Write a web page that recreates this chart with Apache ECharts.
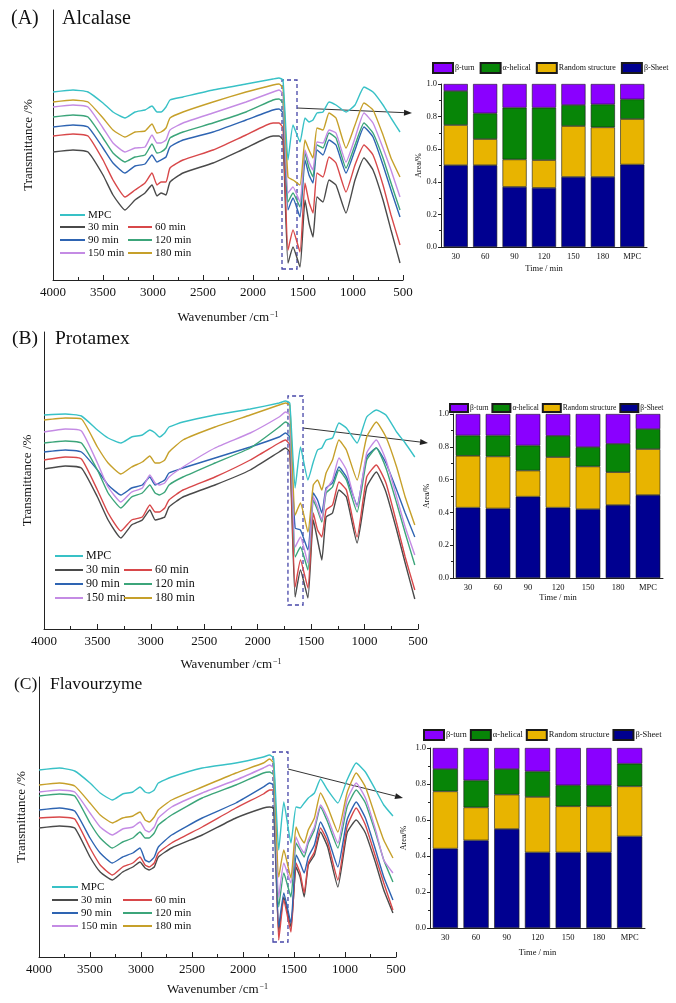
<!DOCTYPE html>
<html><head><meta charset="utf-8">
<script src="https://cdn.jsdelivr.net/npm/echarts/dist/echarts.min.js"></script>
<style>html,body{margin:0;padding:0;background:#fff}#c{width:676px;height:1003px}</style>
</head><body><div id="c"></div>
<script>
// ---------- DATA ----------
const wavenumbers = [4000,3800,3650,3500,3400,3280,3180,3080,3010,2960,2920,2870,2830,2700,2400,2070,1800,1740,1700,1650,1600,1530,1480,1440,1400,1360,1300,1240,1170,1070,980,890,800,700,620,530];
const curveNames = ['MPC','30 min','60 min','90 min','120 min','150 min','180 min'];

// Panel A (Alcalase) transmittance, arbitrary units
const specA_MPC = [188,190,188,177,168,162,168,170,174,168,168,173,180,183,190,196,201,202,200,120,155,138,162,158,160,167,168,178,175,168,175,193,188,175,162,148];
const specA_30  = [128,130,128,105,85,70,80,87,95,84,87,85,98,107,117,132,144,144,140,17,33,13,80,57,43,83,78,100,95,67,100,122,110,80,50,17];
const specA_60  = [144,146,144,120,100,83,90,97,107,95,98,98,112,120,130,145,157,157,152,30,50,28,97,78,67,107,103,123,117,88,115,135,125,95,65,35];
const specA_90  = [153,155,153,132,117,107,114,116,125,118,120,123,133,140,148,160,170,171,167,70,82,63,120,105,97,130,125,140,135,107,130,153,143,115,90,63];
const specA_120 = [163,165,163,142,127,118,123,125,136,127,128,132,142,148,157,168,180,181,177,78,87,73,127,112,103,135,132,147,142,112,135,157,147,122,97,70];
const specA_150 = [173,175,173,152,137,128,132,133,145,137,137,140,150,157,167,178,188,190,186,87,93,78,130,118,110,138,137,150,147,118,142,167,157,132,110,83];
const specA_180 = [178,180,178,162,150,143,148,149,156,147,148,152,162,168,178,188,195,196,192,103,100,95,140,130,122,152,150,167,162,132,155,177,170,145,122,103];

// Panel B (Protamex)
const specB_MPC = [214,215,213,199,191,186,192,194,199,196,192,196,202,207,214,220,226,228,226,141,182,149,167,179,181,189,191,206,201,186,212,219,214,197,186,172];
const specB_30  = [160,163,161,132,109,91,104,109,119,109,110,112,122,132,144,159,177,181,177,32,59,31,109,89,69,112,116,139,132,86,142,157,137,99,66,30];
const specB_60  = [169,172,170,139,116,98,109,112,124,117,117,121,129,139,152,169,186,189,184,42,69,41,116,99,92,119,124,147,139,92,152,164,146,106,72,39];
const specB_90  = [177,179,177,159,144,134,141,144,152,144,146,149,156,161,171,182,192,196,192,101,99,79,136,129,116,141,146,162,152,124,172,181,166,139,116,92];
const specB_120 = [186,188,186,159,136,121,132,136,144,136,134,137,144,152,166,181,202,207,204,72,82,59,129,119,107,136,142,159,149,117,169,181,161,126,96,64];
const specB_150 = [197,200,198,166,142,127,137,141,154,146,144,146,152,162,181,196,212,217,214,82,92,66,132,122,109,139,149,171,159,122,176,189,169,132,102,74];
const specB_180 = [209,211,210,182,166,155,162,167,173,166,166,169,177,189,202,214,224,226,224,114,126,97,144,149,139,156,169,189,179,149,192,207,192,162,132,104];

// Panel C (Flavourzyme)
const specC_MPC = [187,189,186,174,164,157,163,165,170,165,164,167,174,180,189,194,200,202,199,107,155,114,150,149,154,159,164,178,167,154,177,194,185,167,152,141];
const specC_30  = [129,131,129,100,85,77,85,90,95,89,87,90,100,109,122,139,149,150,149,25,60,30,90,80,60,92,102,125,110,70,124,137,124,94,67,44];
const specC_60  = [139,140,138,109,92,82,90,94,100,92,90,94,104,114,130,149,163,167,167,17,57,25,94,84,64,94,105,129,115,77,130,149,132,100,74,47];
const specC_90  = [147,149,146,119,104,94,100,104,109,97,95,100,110,122,139,154,170,174,172,30,64,34,102,94,84,100,112,135,120,90,137,155,139,107,80,57];
const specC_120 = [161,163,161,134,119,109,115,119,125,119,119,124,132,142,159,172,184,185,182,50,84,60,114,107,100,114,127,150,135,109,150,167,154,124,97,75];
const specC_150 = [165,167,165,144,130,122,128,130,135,127,125,130,139,150,164,177,189,192,189,60,94,74,120,110,104,117,130,152,139,114,157,174,159,127,97,84];
const specC_180 = [172,174,171,154,142,134,139,141,145,137,135,140,147,157,170,184,194,198,194,80,107,79,130,120,114,127,139,164,150,125,164,184,170,140,117,99];

// Secondary structure fractions
const barCategories = ['30','60','90','120','150','180','MPC'];
const structNames = ['β-turn','α-helical','Random structure','β-Sheet'];
const barA_sheet   = [0.502,0.502,0.369,0.363,0.430,0.430,0.506];
const barA_random  = [0.246,0.160,0.168,0.170,0.312,0.304,0.279];
const barA_helical = [0.209,0.158,0.318,0.322,0.129,0.141,0.121];
const barA_turn    = [0.043,0.180,0.145,0.145,0.129,0.125,0.094];
const barB_sheet   = [0.429,0.424,0.496,0.429,0.420,0.445,0.506];
const barB_random  = [0.316,0.317,0.159,0.308,0.260,0.200,0.280];
const barB_helical = [0.124,0.128,0.153,0.130,0.118,0.173,0.122];
const barB_turn    = [0.131,0.131,0.192,0.133,0.202,0.182,0.092];
const barC_sheet   = [0.441,0.487,0.550,0.420,0.420,0.420,0.509];
const barC_random  = [0.318,0.183,0.191,0.308,0.256,0.256,0.278];
const barC_helical = [0.124,0.150,0.142,0.142,0.117,0.117,0.126];
const barC_turn    = [0.117,0.180,0.117,0.130,0.207,0.207,0.087];

const xTicks = {min:500, max:4000, interval:500};
const barTicks = {min:0, max:1, interval:0.2};

// ---------- STYLE / LAYOUT ----------
const FONT = '"Liberation Serif","Times New Roman",serif';
const curveColors = {'MPC':'#38c1c6','30 min':'#4a4a4a','60 min':'#d8484a','90 min':'#2e64b2','120 min':'#3ca57a','150 min':'#c48be4','180 min':'#c6a02a'};
const structColors = {'β-turn':'#8a00ff','α-helical':'#078507','Random structure':'#e8b400','β-Sheet':'#000090'};
const AX = '#222';

const panels = [
  {spec:[specA_MPC,specA_30,specA_60,specA_90,specA_120,specA_150,specA_180],
   bars:{sheet:barA_sheet,random:barA_random,helical:barA_helical,turn:barA_turn},
   grid:{left:53,top:10,width:350,height:270}, ymax:270, ynameGap:18,
   barGrid:{left:441,top:84,width:206,height:163}, barNameGap:17, barYGap:14,
   barLegend:{left:432,top:62,w:20,h:10,gap:5,fs:8},
   rect:[1710,1560,11,200],
   legend:{x1:60,w1:25,x2:128,w2:24,rows:[216,228,241,254],fs:11},
   arrow:[297,108,412,113], xNameGap:31},
  {spec:[specB_MPC,specB_30,specB_60,specB_90,specB_120,specB_150,specB_180],
   bars:{sheet:barB_sheet,random:barB_random,helical:barB_helical,turn:barB_turn},
   grid:{left:44,top:332,width:374,height:297}, ymax:297, ynameGap:10,
   barGrid:{left:453,top:414,width:210,height:164}, barNameGap:15, barYGap:22,
   barLegend:{left:449,top:403,w:18,h:8,gap:3,fs:7.5},
   rect:[1717,1576,24,233],
   legend:{x1:55,w1:28,x2:124,w2:28,rows:[557,571,585,599],fs:12},
   arrow:[303,428,428,443], xNameGap:29},
  {spec:[specC_MPC,specC_30,specC_60,specC_90,specC_120,specC_150,specC_180],
   bars:{sheet:barC_sheet,random:barC_random,helical:barC_helical,turn:barC_turn},
   grid:{left:39,top:677,width:357,height:280}, ymax:280, ynameGap:11,
   barGrid:{left:430,top:748,width:215,height:180}, barNameGap:20, barYGap:22,
   barLegend:{left:423,top:729,w:20,h:10,gap:3,fs:8.5},
   rect:[1706,1559,15,205],
   legend:{x1:52,w1:26,x2:123,w2:29,rows:[888,901,914,927],fs:11},
   arrow:[288,769,403,798], xNameGap:26}
];
const titles = [
  {lab:'(A)', name:'Alcalase', lx:11, nx:62, y:9, fs:20},
  {lab:'(B)', name:'Protamex', lx:12, nx:55, y:329, fs:19.5},
  {lab:'(C)', name:'Flavourzyme', lx:14, nx:50, y:675, fs:17.5}
];

const grids = [], xAxes = [], yAxes = [], series = [], legends = [], graphics = [];
const textBase = {fontFamily:FONT, color:'#111'};

panels.forEach((p, i) => {
  const gS = grids.length;
  grids.push(Object.assign({containLabel:false}, p.grid));
  xAxes.push({gridIndex:gS, type:'value', inverse:true, min:xTicks.min, max:xTicks.max, interval:xTicks.interval,
    axisLine:{lineStyle:{color:AX,width:1}}, axisTick:{inside:true,length:5,lineStyle:{color:AX}},
    minorTick:{show:true,splitNumber:2,length:3,lineStyle:{color:AX}}, splitLine:{show:false},
    axisLabel:Object.assign({fontSize:13, margin:6, formatter:v=>String(v)}, textBase),
    name:'Wavenumber /cm{s|−1}', nameLocation:'middle', nameGap:p.xNameGap,
    nameTextStyle:Object.assign({fontSize:13, rich:{s:{fontSize:8, fontFamily:FONT, color:'#111', verticalAlign:'top', padding:[0,0,6,1]}}}, textBase)});
  yAxes.push({gridIndex:gS, type:'value', min:0, max:p.ymax, axisLine:{show:true,lineStyle:{color:AX,width:1}},
    axisTick:{show:false}, axisLabel:{show:false}, splitLine:{show:false},
    name:'Transmittance /%', nameLocation:'middle', nameGap:p.ynameGap,
    nameTextStyle:Object.assign({fontSize:13}, textBase)});
  const order = [1,2,3,4,5,6,0];
  order.forEach(k => {
    const nm = curveNames[k];
    const s = {type:'line', name:nm, xAxisIndex:gS, yAxisIndex:gS, showSymbol:false, smooth:0.15,
      lineStyle:{width:1.4, color:curveColors[nm]}, itemStyle:{color:curveColors[nm]},
      data: wavenumbers.map((w, j) => [w, p.spec[k][j]]), silent:true, animation:false};
    if (k === 0) {
      s.markArea = {silent:true, itemStyle:{color:'rgba(0,0,0,0)', borderColor:'#4646a8', borderWidth:1.3, borderType:[4,3]},
        data:[[{coord:[p.rect[0], p.rect[2]]},{coord:[p.rect[1], p.rect[3]]}]]};
    }
    series.push(s);
  });
  const L = p.legend;
  const pos = [[L.x1,L.w1,0],[L.x1,L.w1,1],[L.x2,L.w2,1],[L.x1,L.w1,2],[L.x2,L.w2,2],[L.x1,L.w1,3],[L.x2,L.w2,3]];
  curveNames.forEach((nm, k) => {
    legends.push({data:[nm], left:pos[k][0], top:L.rows[pos[k][2]] - L.fs/2 - 1, itemWidth:pos[k][1], itemHeight:2,
      icon:'rect', itemGap:0, padding:0, selectedMode:false, textStyle:Object.assign({fontSize:L.fs, padding:[0,0,0,-2]}, textBase)});
  });

  const gB = grids.length;
  grids.push(Object.assign({containLabel:false}, p.barGrid));
  xAxes.push({gridIndex:gB, type:'category', data:barCategories, axisLine:{lineStyle:{color:AX}},
    axisTick:{inside:true,length:3,lineStyle:{color:AX}}, axisLabel:Object.assign({fontSize:8.5, margin:5}, textBase),
    name:'Time / min', nameLocation:'middle', nameGap:p.barNameGap, nameTextStyle:Object.assign({fontSize:8.5}, textBase)});
  yAxes.push({gridIndex:gB, type:'value', min:barTicks.min, max:barTicks.max, interval:barTicks.interval,
    axisLine:{show:true,lineStyle:{color:AX}}, axisTick:{show:true,length:3,lineStyle:{color:AX}},
    minorTick:{show:true,splitNumber:2,length:2,lineStyle:{color:AX}}, splitLine:{show:false},
    axisLabel:Object.assign({fontSize:8.5, margin:4, formatter:v=>v.toFixed(1)}, textBase),
    name:'Area/%', nameLocation:'middle', nameGap:p.barYGap, nameTextStyle:Object.assign({fontSize:8}, textBase)});
  const stackDefs = [['β-Sheet', p.bars.sheet],['Random structure', p.bars.random],['α-helical', p.bars.helical],['β-turn', p.bars.turn]];
  stackDefs.forEach(([nm, arr]) => {
    series.push({type:'bar', name:nm, xAxisIndex:gB, yAxisIndex:gB, stack:'s'+i, data:arr, barWidth:'82%',
      itemStyle:{color:structColors[nm], borderColor:'#1a1a1a', borderWidth:0.6}, silent:true, animation:false});
  });
  const BL = p.barLegend;
  legends.push({data:structNames, left:BL.left, top:BL.top, width:300, orient:'horizontal', itemWidth:BL.w, itemHeight:BL.h, itemGap:BL.gap,
    icon:'rect', padding:0, selectedMode:false, textStyle:Object.assign({fontSize:BL.fs, padding:[0,0,0,-3]}, textBase)});

  const [x1,y1,x2,y2] = p.arrow;
  const ang = Math.atan2(y2-y1, x2-x1), hl = 8, hw = 3;
  const bx = x2 - hl*Math.cos(ang), by = y2 - hl*Math.sin(ang);
  graphics.push({type:'line', shape:{x1:x1,y1:y1,x2:bx,y2:by}, style:{stroke:'#333', lineWidth:1}, silent:true});
  graphics.push({type:'polygon', shape:{points:[[x2,y2],[bx - hw*Math.sin(ang), by + hw*Math.cos(ang)],[bx + hw*Math.sin(ang), by - hw*Math.cos(ang)]]},
    style:{fill:'#222'}, silent:true});
});

titles.forEach(t => {
  const f = t.fs + 'px "Liberation Serif"';
  graphics.push({type:'text', left:t.lx, top:t.y, style:{text:t.lab, font:f, fill:'#111'}, silent:true});
  graphics.push({type:'text', left:t.nx, top:t.y, style:{text:t.name, font:f, fill:'#111'}, silent:true});
});

const chart = echarts.init(document.getElementById('c'), null, {renderer:'canvas'});
chart.setOption({animation:false, backgroundColor:'#fff', grid:grids, xAxis:xAxes, yAxis:yAxes, series:series, legend:legends, graphic:graphics});
</script></body></html>
